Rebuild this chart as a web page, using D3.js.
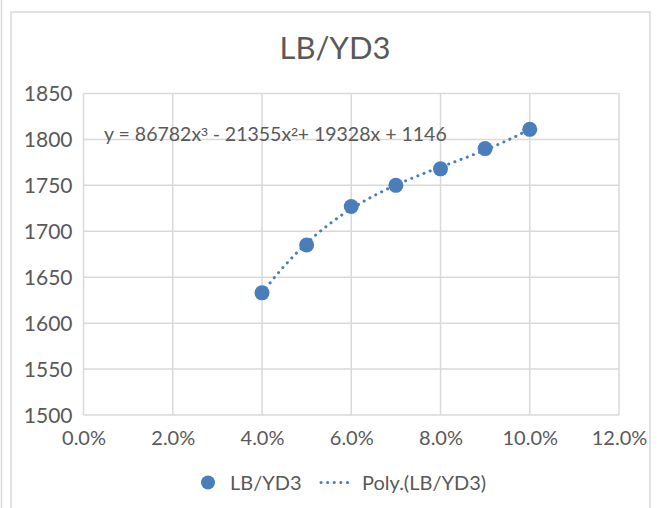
<!DOCTYPE html>
<html>
<head>
<meta charset="utf-8">
<script src="https://cdn.jsdelivr.net/npm/d3@7/dist/d3.min.js"></script>
<style>
  html, body { margin: 0; padding: 0; background: #ffffff; }
  svg { display: block; }
  text { font-family: Lato, "Open Sans", sans-serif; fill: #595959; }
</style>
</head>
<body>
<svg id="chart" width="660" height="508"></svg>
<script>
// ---- Data ----
const chartTitle = "LB/YD3";
const xValues = [0.04, 0.05, 0.06, 0.07, 0.08, 0.09, 0.10];
const yValues = [1633, 1685, 1727, 1750, 1768, 1790, 1811];
const xTicks = [0, 0.02, 0.04, 0.06, 0.08, 0.10, 0.12];
const yTicks = [1500, 1550, 1600, 1650, 1700, 1750, 1800, 1850];
const equationParts = ["y = 86782x", "³", " - 21355x", "²", "+ 19328x + 1146"];
const legendLabels = ["LB/YD3", "Poly.(LB/YD3)"];

const blue = "#4A7EBB";
const gridColor = "#D9D9D9";

const svg = d3.select("#chart");

// chart outer frames
svg.append("line").attr("x1", 1.5).attr("x2", 1.5).attr("y1", 0).attr("y2", 508)
  .attr("stroke", gridColor).attr("stroke-width", 1.5);
svg.append("path").attr("d", "M11,508 V12 H650 V508")
  .attr("fill", "none").attr("stroke", gridColor).attr("stroke-width", 1.5);

const x = d3.scaleLinear().domain([0, 0.12]).range([83.5, 619]);
const y = d3.scaleLinear().domain([1500, 1850]).range([415, 93.5]);

// gridlines
svg.append("g").selectAll("line.h").data(yTicks).join("line")
  .attr("x1", x(0)).attr("x2", x(0.12))
  .attr("y1", d => y(d)).attr("y2", d => y(d))
  .attr("stroke", gridColor).attr("stroke-width", 1.5);
svg.append("g").selectAll("line.v").data(xTicks).join("line")
  .attr("x1", d => x(d)).attr("x2", d => x(d))
  .attr("y1", y(1500)).attr("y2", y(1850))
  .attr("stroke", gridColor).attr("stroke-width", 1.5);

// axes (labels via d3 axes, domain/ticks hidden)
const yAxis = svg.append("g").attr("transform", `translate(${x(0) - 11},0)`)
  .call(d3.axisLeft(y).tickValues(yTicks).tickSize(0).tickPadding(0).tickFormat(d3.format("d")));
yAxis.select(".domain").remove();
yAxis.selectAll("text").style("font-size", "21px").attr("fill", "#595959")
  .attr("font-family", "Lato, sans-serif").attr("dy", "0.35em");

const xAxis = svg.append("g").attr("transform", `translate(0,${y(1500) + 10})`)
  .call(d3.axisBottom(x).tickValues(xTicks).tickSize(0).tickPadding(0).tickFormat(d3.format(".1%")));
xAxis.select(".domain").remove();
xAxis.selectAll("text").style("font-size", "20px").attr("fill", "#595959")
  .attr("font-family", "Lato, sans-serif").attr("dy", "1.0em");

// title
svg.append("text").attr("x", 335).attr("y", 59).attr("text-anchor", "middle")
  .style("font-size", "31px").text(chartTitle);

// cubic least-squares trendline
function polyfit(xs, ys, deg) {
  const n = deg + 1;
  const A = Array.from({length: n}, () => new Array(n + 1).fill(0));
  for (let i = 0; i < xs.length; i++) {
    for (let r = 0; r < n; r++) {
      for (let c = 0; c < n; c++) A[r][c] += Math.pow(xs[i], r + c);
      A[r][n] += ys[i] * Math.pow(xs[i], r);
    }
  }
  for (let col = 0; col < n; col++) {
    let piv = col;
    for (let r = col + 1; r < n; r++) if (Math.abs(A[r][col]) > Math.abs(A[piv][col])) piv = r;
    [A[col], A[piv]] = [A[piv], A[col]];
    for (let r = 0; r < n; r++) {
      if (r === col) continue;
      const f = A[r][col] / A[col][col];
      for (let c = col; c <= n; c++) A[r][c] -= f * A[col][c];
    }
  }
  return A.map((row, i) => row[n] / row[i]);
}
const coef = polyfit(xValues, yValues, 3);
const fitY = t => coef.reduce((s, c, i) => s + c * Math.pow(t, i), 0);
const trendX = d3.range(xValues[0], xValues[xValues.length - 1] + 1e-9, 0.0005);
svg.append("path").datum(trendX)
  .attr("d", d3.line().x(d => x(d)).y(d => y(fitY(d))))
  .attr("fill", "none").attr("stroke", blue).attr("stroke-width", 3)
  .attr("stroke-linecap", "round").attr("stroke-dasharray", "0.1 6.5");

// markers
svg.append("g").selectAll("circle").data(xValues).join("circle")
  .attr("cx", d => x(d)).attr("cy", (d, i) => y(yValues[i])).attr("r", 7.5)
  .attr("fill", blue);

// equation label
const eq = svg.append("text").attr("x", 104).attr("y", 141).style("font-size", "19.5px");
eq.selectAll("tspan").data(equationParts).join("tspan")
  .attr("font-family", (d, i) => i % 2 === 1 ? "'Liberation Sans', sans-serif" : null)
  .text(d => d);

// legend
const lg = svg.append("g");
lg.append("circle").attr("cx", 208).attr("cy", 482.5).attr("r", 7).attr("fill", blue);
lg.append("text").attr("x", 230).attr("y", 490).style("font-size", "20px").text(legendLabels[0]);
lg.append("line").attr("x1", 321).attr("x2", 353).attr("y1", 482.5).attr("y2", 482.5)
  .attr("stroke", blue).attr("stroke-width", 3).attr("stroke-linecap", "round")
  .attr("stroke-dasharray", "0.1 6.5");
lg.append("text").attr("x", 362).attr("y", 490).style("font-size", "20px").text(legendLabels[1]);
</script>
</body>
</html>
